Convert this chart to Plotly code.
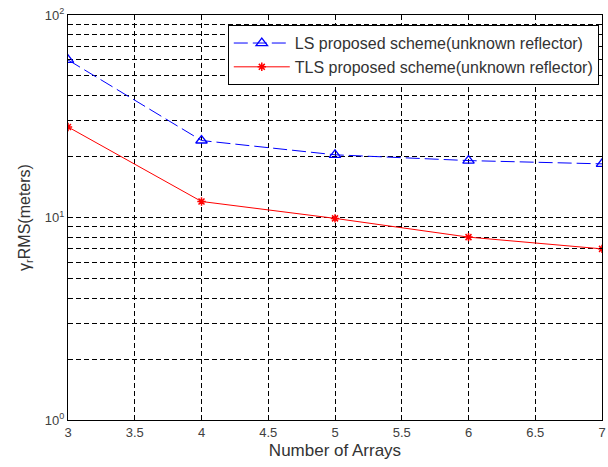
import plotly.graph_objects as go

arrays = [3, 4, 5, 6, 7]
ls_rms = [60, 24, 20.4, 19.1, 18.4]
tls_rms = [28, 12.0, 9.9, 8.0, 7.0]
ls_name = "LS proposed scheme(unknown reflector)"
tls_name = "TLS proposed scheme(unknown reflector)"
y_tickvals = [1, 10, 100]
y_ticktext = ["10<sup>0</sup>", "10<sup>1</sup>", "10<sup>2</sup>"]
x_tickvals = [3, 3.5, 4, 4.5, 5, 5.5, 6, 6.5, 7]
x_ticktext = ["3", "3.5", "4", "4.5", "5", "5.5", "6", "6.5", "7"]

fig = go.Figure()
fig.add_trace(go.Scatter(
    x=arrays, y=ls_rms, name=ls_name, mode="lines+markers",
    line=dict(color="#0000ff", width=1, dash="14px,5px"),
    marker=dict(symbol="triangle-up-open", size=10, color="#0000ff", line=dict(width=1.3, color="#0000ff")),
))
fig.add_trace(go.Scatter(
    x=arrays, y=tls_rms, name=tls_name, mode="lines+markers",
    line=dict(color="#ff0000", width=1),
    marker=dict(symbol="asterisk-open", size=7, color="#ff0000", line=dict(width=1.5, color="#ff0000")),
))

font = "Liberation Sans, Arial, sans-serif"
grid_dash = "5px,3px"
fig.update_layout(
    width=608, height=467,
    margin=dict(l=68, r=2, t=15, b=47),
    paper_bgcolor="white", plot_bgcolor="white",
    font=dict(family=font, size=13, color="#404040"),
    showlegend=True,
    legend=dict(
        x=0.994, y=0.975, xanchor="right", yanchor="top",
        bgcolor="white", bordercolor="black", borderwidth=1,
        font=dict(size=16, color="#333333"),
        tracegroupgap=0, itemwidth=56,
    ),
    xaxis=dict(
        range=[3, 7], tickvals=x_tickvals, ticktext=x_ticktext,
        showline=True, linecolor="black", linewidth=1.2, mirror="ticks",
        ticks="inside", ticklen=5, tickcolor="black",
        showgrid=True, gridcolor="black", griddash=grid_dash, gridwidth=1,
        zeroline=False, ticklabeloverflow="allow",
        title=dict(text="Number of Arrays", font=dict(size=17, color="#333333"), standoff=5),
        tickfont=dict(size=13),
    ),
    yaxis=dict(
        type="log", range=[0, 2], tickvals=y_tickvals, ticktext=y_ticktext,
        showline=True, linecolor="black", linewidth=1.2, mirror="ticks",
        ticks="inside", ticklen=5, tickcolor="black",
        showgrid=True, gridcolor="black", griddash=grid_dash, gridwidth=1,
        minor=dict(dtick="D1", showgrid=True, gridcolor="black", griddash=grid_dash, gridwidth=1,
                   ticks="inside", ticklen=3, tickcolor="black"),
        zeroline=False, ticklabeloverflow="allow",
        title=dict(text="γ<sub>r</sub>RMS(meters)", font=dict(size=16, color="#333333"), standoff=10),
        tickfont=dict(size=13),
    ),
)

fig.write_html(
    "out.html",
    config={"displayModeBar": False},
    post_script="document.body.style.margin='0';document.body.style.padding='0';",
)
